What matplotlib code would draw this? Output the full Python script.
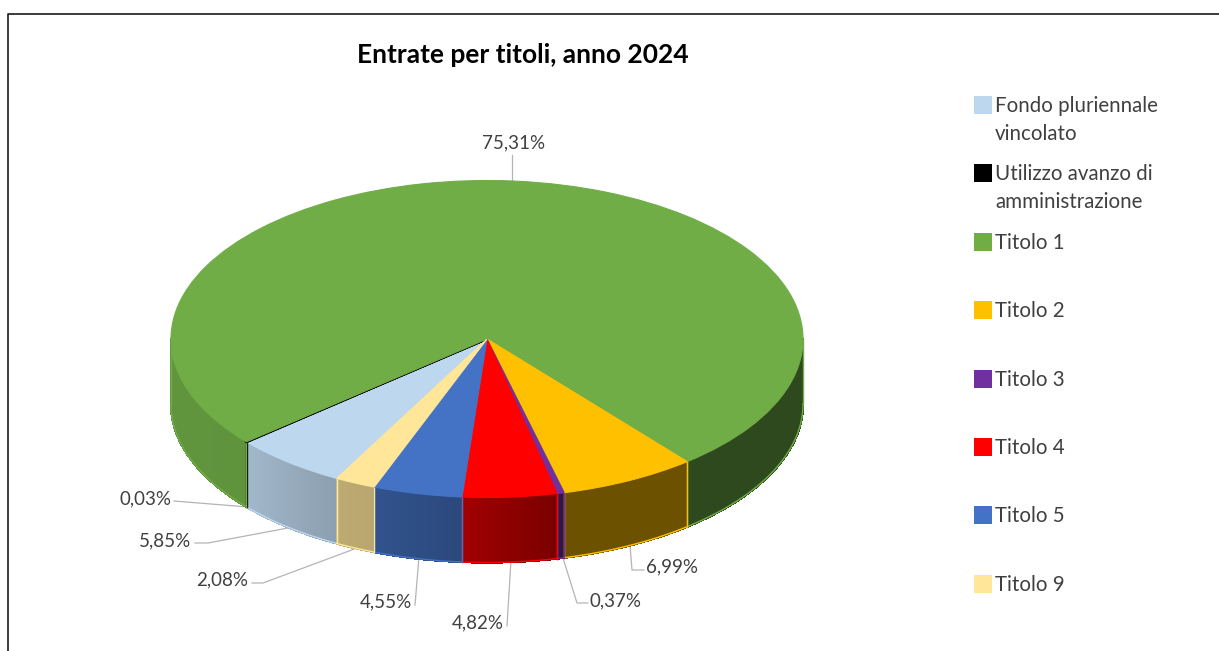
import numpy as np
import matplotlib
matplotlib.use("Agg")
import matplotlib.pyplot as plt
from matplotlib.collections import PolyCollection
from matplotlib.colors import to_rgb
from matplotlib.patches import Rectangle
from matplotlib.transforms import Affine2D

# ---- data ----
categories = ["Fondo pluriennale\nvincolato", "Utilizzo avanzo di\namministrazione",
              "Titolo 1", "Titolo 2", "Titolo 3", "Titolo 4", "Titolo 5", "Titolo 9"]
values = [5.85, 0.03, 75.31, 6.99, 0.37, 4.82, 4.55, 2.08]
colors = ["#BDD7EE", "#000000", "#70AD47", "#FFC000", "#7030A0", "#FF0000", "#4472C4", "#FFE699"]
title = "Entrate per titoli, anno 2024"

# ---- layout (pixels) ----
W, H = 1219, 651
CX, CY, RX, RY, DEPTH = 487, 339, 316, 158.5, 65
START = 241.6
FONT = ["Lato", "DejaVu Sans"]
legend_y = [(106, 134), (174, 202), (243,), (311,), (380,), (448,), (516,), (585,)]
leaders = [
    ((174, 501), (248, 507)),
    ((195, 543), (208, 543), (288, 528)),
    ((252, 583), (263, 583), (357, 548)),
    ((415, 605), (419, 557)),
    ((507, 626), (511, 560)),
    ((588, 603), (577, 603), (563, 558)),
    ((644, 570), (632, 570), (630, 545)),
    ((512, 155), (512, 180)),
]
label_pos = [(165, 541), (145, 499), (514, 143), (672, 567), (616, 601), (478, 623), (386, 602), (222, 580)]

fig = plt.figure(figsize=(W / 100, H / 100), dpi=100, facecolor="white")
ax = fig.add_axes([0, 0, 1, 1])
pix = Affine2D().scale(1, -1).translate(0, H) + Affine2D().scale(fig.dpi / 100)

# top face through the library's pie
wedges, _ = ax.pie(values, colors=colors, startangle=START, counterclock=False,
                   radius=1, center=(0, 0))
for w, c in zip(wedges, colors):
    w.set_edgecolor(c)
    w.set_linewidth(1.6 if c == "#000000" else 0.8)
    w.set_zorder(5)
ax.set_aspect("auto")
ax.set_xlim(-CX / RX, (W - CX) / RX)
ax.set_ylim((CY - H) / RY, CY / RY)
ax.set_axis_off()

# side wall, shaded along the angle
shade_a = [180, 222, 240, 250, 265, 282, 285, 360]
shade_f = [.86, .85, .75, .72, .64, .49, .42, .42]
d = DEPTH / RY
ang = START
for v, c in zip(values, colors):
    a1 = ang
    a0 = ang - v * 3.6
    ang = a0
    segs = []
    for shift in (-360, 0, 360):
        l, h = max(a0 + shift, 180), min(a1 + shift, 360)
        if h > l:
            segs.append((l, h))
    base = np.array(to_rgb(c))
    for l, h in segs:
        n = max(2, int((h - l) * 2))
        t = np.radians(np.linspace(l, h, n + 1))
        xs, ys = np.cos(t), np.sin(t)
        polys, fcs = [], []
        for i in range(n):
            polys.append([(xs[i], ys[i]), (xs[i + 1], ys[i + 1]),
                          (xs[i + 1], ys[i + 1] - d), (xs[i], ys[i] - d)])
            f = np.interp(np.degrees((t[i] + t[i + 1]) / 2), shade_a, shade_f)
            fcs.append(base * f)
        ax.add_collection(PolyCollection(polys, facecolors=fcs, edgecolors=fcs,
                                         linewidths=1.0, antialiaseds=False, zorder=2))
        ax.plot(xs, ys - d, color=c, lw=1.0, zorder=3)
        ax.plot([xs[0], xs[0]], [ys[0], ys[0] - d], color=c, lw=1.0, zorder=3)
        ax.plot([xs[-1], xs[-1]], [ys[-1], ys[-1] - d], color=c, lw=1.0, zorder=3)

# leaders and percentage labels
for pts in leaders:
    xs, ys = zip(*pts)
    ax.plot(xs, ys, color="#B4B4B4", lw=0.9, transform=pix, zorder=1)
for v, (x, y) in zip(values, label_pos):
    ax.text(x, y, f"{v:.2f}".replace(".", ",") + "%", transform=pix, ha="center", va="center",
            fontsize=13.5, color="#404040", family=FONT)

# title
ax.text(523, 55, title, transform=pix, ha="center", va="center", fontsize=19,
        fontweight="bold", color="black", family=FONT)

# legend
for name, c, ys in zip(categories, colors, legend_y):
    ax.add_patch(Rectangle((974, ys[0] - 10), 18, 18, transform=pix, facecolor=c,
                           edgecolor="none", zorder=6))
    for line, y in zip(name.split("\n"), ys):
        ax.text(995, y, line, transform=pix, ha="left", va="center", fontsize=14.8,
                color="#404040", family=FONT)

# outer frame, top and left
ax.plot([8, 8, W], [H, 14, 14], color="#1a1a1a", lw=1.2, transform=pix, zorder=7, clip_on=False)
fig.savefig("out.png", dpi=100, facecolor="white")
